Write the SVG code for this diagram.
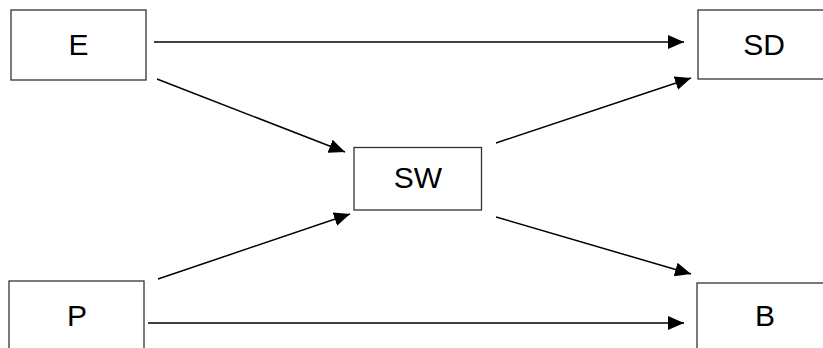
<svg xmlns="http://www.w3.org/2000/svg" width="823" height="348" viewBox="0 0 823 348">
<style>
.box{fill:#fff;stroke:#333;stroke-width:1.3}
.lbl{font-family:"Liberation Sans",Arial,sans-serif;font-size:30px;fill:#000;text-anchor:middle}
.edge{stroke:#000;stroke-width:1.5;fill:none;marker-end:url(#ah)}
</style>
<defs>
<marker id="ah" markerUnits="userSpaceOnUse" markerWidth="18" markerHeight="14" refX="16" refY="7" orient="auto">
<path d="M0,0 L16,7 L0,14 Z" fill="#000"/>
</marker>
</defs>
<rect width="823" height="348" fill="#fff"/>
<g id="connectors">
<line class="edge" x1="154" y1="42" x2="684" y2="42"/>
<line class="edge" x1="157" y1="79" x2="345" y2="152"/>
<line class="edge" x1="496" y1="143" x2="691" y2="78"/>
<line class="edge" x1="158" y1="279" x2="350" y2="214"/>
<line class="edge" x1="496" y1="217" x2="691" y2="274"/>
<line class="edge" x1="148" y1="323" x2="684" y2="323"/>
</g>
<g id="node-E">
<rect class="box" x="11" y="10" width="135" height="70"/>
<text class="lbl" x="78.5" y="55">E</text>
</g>
<g id="node-SD">
<rect class="box" x="698" y="10" width="130" height="69"/>
<text class="lbl" x="764" y="55">SD</text>
</g>
<g id="node-SW">
<rect class="box" x="354" y="147.5" width="127.5" height="62.5"/>
<text class="lbl" x="418" y="188">SW</text>
</g>
<g id="node-P">
<rect class="box" x="9" y="281" width="135" height="80"/>
<text class="lbl" x="77" y="326">P</text>
</g>
<g id="node-B">
<rect class="box" x="697" y="283" width="130" height="80"/>
<text class="lbl" x="765" y="326">B</text>
</g>
</svg>
